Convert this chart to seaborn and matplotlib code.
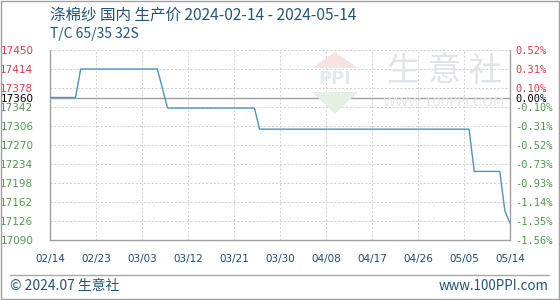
import matplotlib
matplotlib.use("Agg")
import matplotlib.pyplot as plt
import seaborn as sns
import pandas as pd
from matplotlib.patches import Polygon, Rectangle
from matplotlib.lines import Line2D

# ---- data ----
dates = ["2024-02-14", "2024-02-19", "2024-02-20", "2024-03-06", "2024-03-08",
         "2024-03-25", "2024-03-26", "2024-05-06", "2024-05-07", "2024-05-12",
         "2024-05-13", "2024-05-14"]
prices = [17360, 17360, 17414, 17414, 17340, 17340, 17300, 17300, 17220, 17220,
          17145, 17122]
left_ticks = [17450, 17414, 17378, 17360, 17342, 17306, 17270, 17234, 17198,
              17162, 17126, 17090]
right_labels = ["0.52%", "0.31%", "0.10%", "0.00%", "-0.10%", "-0.31%", "-0.52%",
                "-0.73%", "-0.93%", "-1.14%", "-1.35%", "-1.56%"]
x_ticks = ["2024-02-14", "2024-02-23", "2024-03-03", "2024-03-12", "2024-03-21",
           "2024-03-30", "2024-04-08", "2024-04-17", "2024-04-26", "2024-05-05",
           "2024-05-14"]
x_tick_labels = ["02/14", "02/23", "03/03", "03/12", "03/21", "03/30", "04/08",
                 "04/17", "04/26", "05/05", "05/14"]
base_price = 17360
title = "涤棉纱 国内 生产价 2024-02-14 - 2024-05-14"
subtitle = "T/C 65/35 32S"
footer_left = "© 2024.07 生意社"
footer_right = "www.100PPI.com"

df = pd.DataFrame({"date": pd.to_datetime(dates), "price": prices})

sns.set_theme(style="white")
plt.rcParams["font.family"] = ["DejaVu Sans", "Noto Sans CJK SC"]

W, H = 560, 300
fig = plt.figure(figsize=(5.6, 3.0), dpi=100)
fig.patch.set_facecolor("white")

def fx(px):
    return px / W

def fy(py):
    return 1 - py / H

ax = fig.add_axes([fx(50), fy(240), fx(510) - fx(50), fy(50) - fy(240)])
ax.set_facecolor("none")

# watermark
wm = "#dfe3ea"
fig.patches.append(Polygon([[fx(335), fy(52)], [fx(312), fy(68)], [fx(358), fy(68)]],
                           closed=True, transform=fig.transFigure, facecolor="#f7e3df",
                           edgecolor="none", zorder=0))
fig.patches.append(Polygon([[fx(312), fy(92)], [fx(358), fy(92)], [fx(335), fy(114)]],
                           closed=True, transform=fig.transFigure, facecolor="#e3f0e3",
                           edgecolor="none", zorder=0))
fig.text(fx(335), fy(79), "PPI", ha="center", va="center", fontsize=13,
         color="#e4e8ef", fontweight="bold", zorder=0)
fig.text(fx(445), fy(72), "生 意 社", ha="center", va="center", fontsize=24,
         color=wm, family=["Noto Sans CJK SC"], zorder=0)
fig.text(fx(444), fy(102), "WWW.100PPI.COM", ha="center", va="center", fontsize=9.5,
         color="#e4e7ec", zorder=0)

xmin, xmax = pd.Timestamp("2024-02-14"), pd.Timestamp("2024-05-14")
ymin, ymax = 17090, 17450

sns.lineplot(data=df, x="date", y="price", ax=ax, color="#4b95bf", linewidth=1.0,
             zorder=5)
ax.set_xlim(xmin, xmax)
ax.set_ylim(ymin, ymax)
ax.set_xlabel("")
ax.set_ylabel("")

# grid
for t in left_ticks:
    if t == base_price:
        ax.axhline(t, color="#a0a0a0", linewidth=1.0, zorder=2)
    elif t not in (ymin,):
        ax.axhline(t, color="#cfcfcf", linewidth=0.7, linestyle=(0, (2, 2)), zorder=1)
for d in x_ticks[1:-1]:
    ax.axvline(pd.Timestamp(d), color="#cfcfcf", linewidth=0.7, linestyle=(0, (2, 2)),
               zorder=1)

for side in ["left", "bottom", "right"]:
    ax.spines[side].set_color("#a0a0a0")
    ax.spines[side].set_linewidth(1.0)
ax.spines["top"].set_visible(False)

def col(v):
    if v > base_price:
        return "#d0404a"
    if v < base_price:
        return "#4f9a4f"
    return "black"

ax.set_yticks(left_ticks)
ax.set_yticklabels([str(t) for t in left_ticks], fontsize=7.5)
for lab, t in zip(ax.get_yticklabels(), left_ticks):
    lab.set_color(col(t))
ax.tick_params(axis="y", length=0, pad=12)

ax.set_xticks([pd.Timestamp(d) for d in x_ticks])
ax.set_xticklabels(x_tick_labels, fontsize=7.5, color="#1d4c72")
ax.tick_params(axis="x", length=0, pad=10)

ax2 = ax.twinx()
ax2.set_ylim(ymin, ymax)
ax2.set_yticks(left_ticks)
ax2.set_yticklabels(right_labels, fontsize=7.5, family="DejaVu Sans Mono")
for lab, t in zip(ax2.get_yticklabels(), left_ticks):
    lab.set_color(col(t))
ax2.tick_params(axis="y", length=0, pad=4)
for s in ax2.spines.values():
    s.set_visible(False)
ax2.grid(False)

# titles
tc = "#235679"
fig.text(fx(50), fy(15), title, ha="left", va="center", fontsize=11.2, color=tc,
         family=["Noto Sans CJK SC", "DejaVu Sans"])
fig.text(fx(50), fy(34), subtitle, ha="left", va="center", fontsize=10, color=tc,
         family=["Noto Sans CJK SC", "DejaVu Sans"])

# footer
fig.lines.append(Line2D([fx(10), fx(549)], [fy(275), fy(275)], transform=fig.transFigure,
                        color="#a8a8a8", linewidth=1.0))
fig.text(fx(10), fy(286), footer_left, ha="left", va="center", fontsize=10, color=tc,
         family=["Noto Sans CJK SC", "DejaVu Sans"])
fig.text(fx(549), fy(286), footer_right, ha="right", va="center", fontsize=9.6,
         color=tc, family=["Noto Sans CJK SC", "DejaVu Sans"])

# outer frame
fig.patches.append(Rectangle((0.001, 0.002), 0.997, 0.996, transform=fig.transFigure,
                             fill=False, edgecolor="#a0a0a0", linewidth=1.0))

fig.savefig("out.png", dpi=100, facecolor="white")
